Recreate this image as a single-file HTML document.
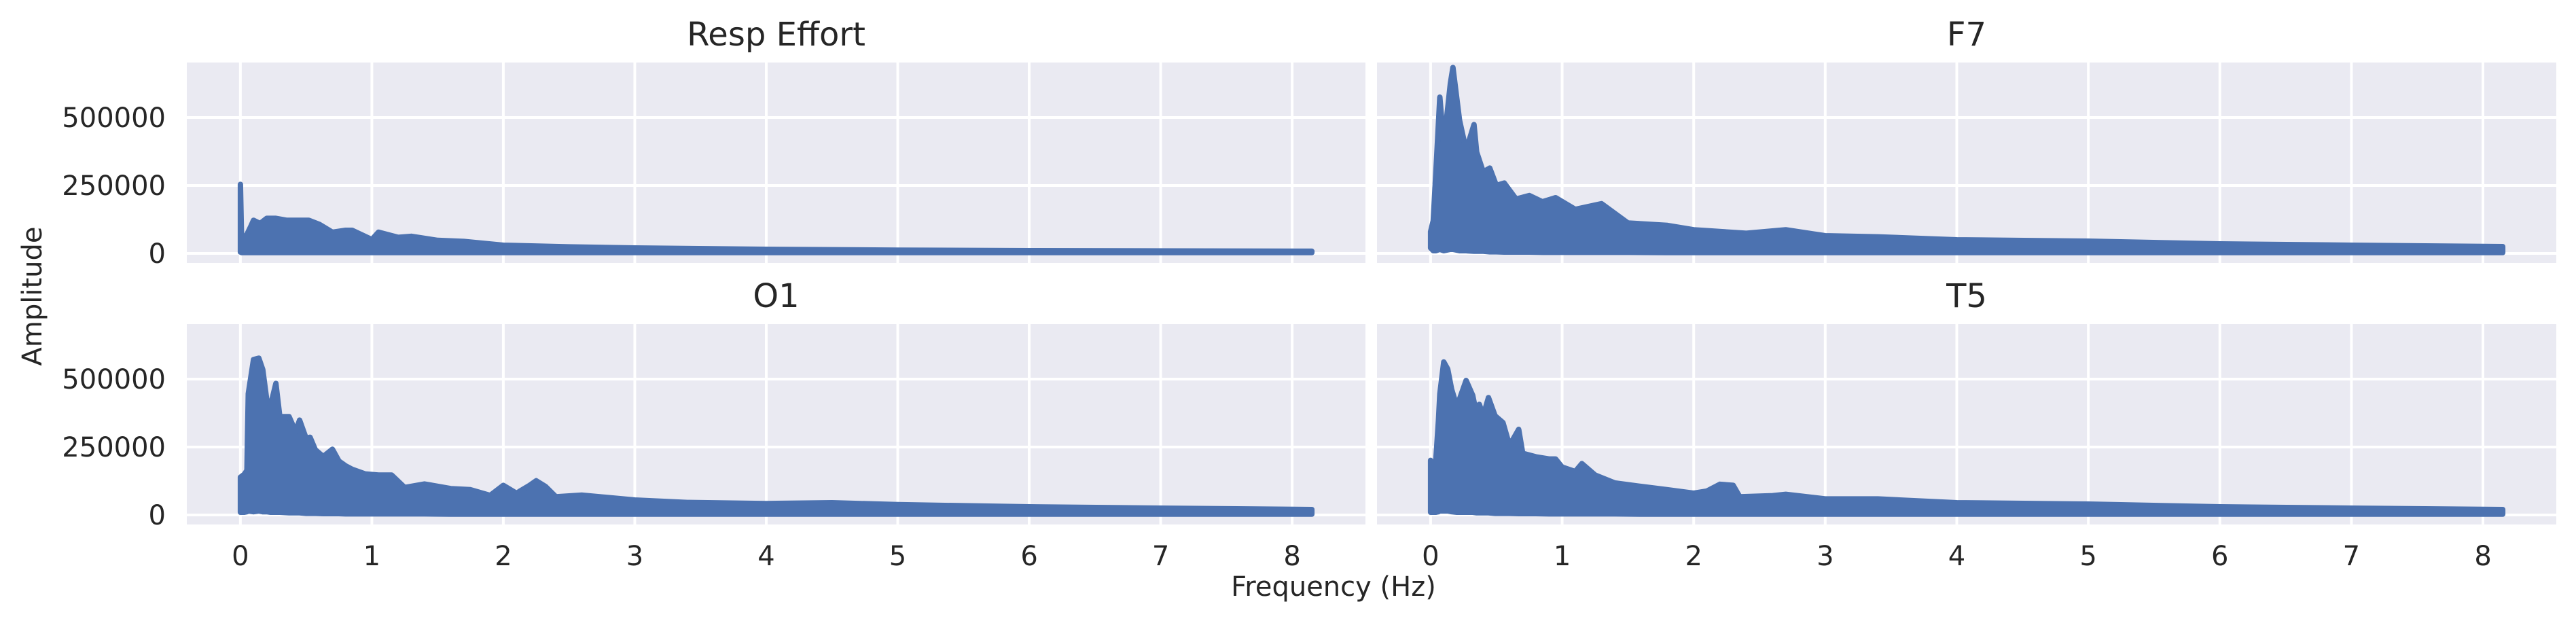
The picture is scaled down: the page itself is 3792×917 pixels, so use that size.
<!DOCTYPE html>
<html><head><meta charset="utf-8"><style>
html,body{margin:0;padding:0;background:#fff;}
svg{display:block;font-family:"DejaVu Sans","Liberation Sans",sans-serif;}
</style></head><body>
<svg id="chart" width="3792" height="917" viewBox="0 0 3792 917"></svg>
<script>
const xTicks = [0,1,2,3,4,5,6,7,8];
const yTicks = [0,250000,500000];
const yTickLabels = ["0","250000","500000"];
const titles = ["Resp Effort","F7","O1","T5"];

const respFreq = [0,0.01,0.03,0.05,0.08,0.1,0.15,0.2,0.27,0.35,0.42,0.52,0.6,0.7,0.8,0.85,1.0,1.05,1.2,1.3,1.5,1.7,2.0,2.5,3.0,4.0,5.0,6.0,7.0,8.15];
const respUpper = [254000,30000,60000,70000,100000,122000,110000,129000,129000,122000,122000,122000,107000,78000,85000,85000,51000,78000,59000,63000,48000,44000,30000,24000,20000,15000,12000,10000,9000,8000];
const respLower = [5000,3000,3000,3000,3000,3000,3000,3000,3000,3000,3000,3000,3000,3000,3000,3000,3000,3000,3000,3000,3000,3000,3000,3000,3000,3000,3000,3000,3000,3000];

const f7Freq = [0,0.02,0.04,0.07,0.1,0.15,0.17,0.22,0.27,0.33,0.35,0.4,0.45,0.5,0.56,0.65,0.75,0.85,0.95,1.1,1.3,1.5,1.8,2.0,2.4,2.7,3.0,3.4,4.0,5.0,6.0,7.0,8.15];
const f7Upper = [80000,120000,300000,575000,400000,625000,684000,490000,380000,474000,373000,300000,314000,250000,259000,200000,213000,190000,205000,162000,183000,112000,103000,87000,74000,87000,65000,61000,50000,45000,35000,30000,25000];
const f7Lower = [20000,10000,10000,15000,10000,15000,15000,10000,10000,8000,8000,8000,6000,6000,5000,5000,5000,4000,4000,4000,4000,4000,3000,3000,3000,3000,3000,3000,3000,3000,3000,3000,3000];

const o1Freq = [0,0.03,0.05,0.06,0.1,0.14,0.17,0.2,0.23,0.27,0.3,0.37,0.42,0.45,0.5,0.53,0.57,0.63,0.7,0.75,0.8,0.85,0.95,1.05,1.15,1.25,1.4,1.6,1.75,1.9,2.0,2.1,2.2,2.25,2.32,2.4,2.6,3.0,3.4,4.0,4.5,5.0,6.0,7.0,8.15];
const o1Upper = [139000,150000,164000,446000,572000,577000,535000,425000,404000,484000,362000,362000,307000,349000,282000,286000,240000,215000,242000,198000,181000,168000,151000,147000,147000,101000,114000,97000,93000,72000,109000,80000,109000,126000,105000,67000,73000,55000,46000,42000,45000,38000,30000,25000,20000];
const o1Lower = [10000,10000,12000,15000,12000,15000,12000,12000,10000,10000,10000,8000,8000,8000,6000,6000,6000,5000,5000,5000,4000,4000,4000,4000,4000,4000,4000,3000,3000,3000,3000,3000,3000,3000,3000,3000,3000,3000,3000,3000,3000,3000,3000,3000,3000];

const t5Freq = [0,0.01,0.02,0.04,0.06,0.07,0.1,0.13,0.16,0.2,0.27,0.32,0.35,0.37,0.4,0.44,0.49,0.55,0.6,0.67,0.7,0.8,0.9,0.95,1.0,1.1,1.15,1.25,1.4,1.6,1.8,2.0,2.1,2.2,2.3,2.35,2.6,2.7,3.0,3.4,4.0,5.0,6.0,7.0,8.15];
const t5Upper = [201000,60000,38000,206000,348000,445000,563000,537000,462000,399000,495000,440000,369000,407000,365000,432000,365000,340000,256000,315000,227000,214000,206000,206000,176000,160000,189000,147000,118000,105000,93000,80000,88000,113000,109000,67000,71000,76000,59000,59000,45000,40000,30000,25000,20000];
const t5Lower = [10000,10000,10000,10000,12000,15000,15000,15000,12000,10000,10000,10000,8000,8000,8000,8000,6000,6000,6000,5000,5000,5000,4000,4000,4000,4000,4000,4000,4000,3000,3000,3000,3000,3000,3000,3000,3000,3000,3000,3000,3000,3000,3000,3000,3000];

const NS = "http://www.w3.org/2000/svg";
const svg = document.getElementById("chart");
const X_MIN = -0.4075, X_MAX = 8.5575, Y_MIN = -35000, Y_MAX = 702500;
const panels = [
  {x0:275, x1:2010, y0:92, y1:387, freq:respFreq, up:respUpper, lo:respLower, ylab:true, xlab:false, name:"resp-effort"},
  {x0:2027, x1:3763, y0:92, y1:387, freq:f7Freq, up:f7Upper, lo:f7Lower, ylab:false, xlab:false, name:"f7"},
  {x0:275, x1:2010, y0:477, y1:772, freq:o1Freq, up:o1Upper, lo:o1Lower, ylab:true, xlab:true, name:"o1"},
  {x0:2027, x1:3763, y0:477, y1:772, freq:t5Freq, up:t5Upper, lo:t5Lower, ylab:false, xlab:true, name:"t5"}
];
function mk(tag, attrs, parent){
  const e = document.createElementNS(NS, tag);
  for (const k in attrs) e.setAttribute(k, attrs[k]);
  (parent||svg).appendChild(e);
  return e;
}
panels.forEach((p, i) => {
  const sx = v => p.x0 + (v - X_MIN) / (X_MAX - X_MIN) * (p.x1 - p.x0);
  const sy = v => p.y1 - (v - Y_MIN) / (Y_MAX - Y_MIN) * (p.y1 - p.y0);
  const g = mk("g", {});
  
  
  const bg = mk("rect", {x:p.x0, y:p.y0, width:p.x1-p.x0, height:p.y1-p.y0, fill:"#eaeaf2"}, g);
  
  
  xTicks.forEach(t => {
    const l = mk("line", {x1:sx(t), x2:sx(t), y1:p.y0, y2:p.y1, stroke:"#fff", "stroke-width":4}, g);
    
    
    if (p.xlab) {
      const tx = mk("text", {x:sx(t), y:832, "text-anchor":"middle", "font-size":40, fill:"#262626"}, g);
      tx.textContent = String(t);
      
      
    }
  });
  yTicks.forEach((t, k) => {
    const l = mk("line", {x1:p.x0, x2:p.x1, y1:sy(t), y2:sy(t), stroke:"#fff", "stroke-width":4}, g);
    
    
    if (p.ylab) {
      const tx = mk("text", {x:244, y:sy(t)+14, "text-anchor":"end", "font-size":40, fill:"#262626"}, g);
      tx.textContent = yTickLabels[k];
      
      
    }
  });
  let d = "";
  p.freq.forEach((f, k) => { d += (k ? "L" : "M") + sx(f).toFixed(1) + "," + sy(p.up[k]).toFixed(1); });
  for (let k = p.freq.length - 1; k >= 0; k--) d += "L" + sx(p.freq[k]).toFixed(1) + "," + sy(p.lo[k]).toFixed(1);
  d += "Z";
  const path = mk("path", {d:d, fill:"#4c72b0", stroke:"#4c72b0", "stroke-width":8, "stroke-linejoin":"round"}, g);
  
  
  const title = mk("text", {x:(p.x0+p.x1)/2, y:p.y0-25, "text-anchor":"middle", "font-size":48, fill:"#262626"}, g);
  title.textContent = titles[i];
  
  
});
const xl = mk("text", {x:1963, y:877, "text-anchor":"middle", "font-size":40, fill:"#262626"});
xl.textContent = "Frequency (Hz)";


const yl = mk("text", {x:0, y:0, "text-anchor":"middle", "font-size":40, fill:"#262626", transform:"translate(61,436) rotate(-90)"});
yl.textContent = "Amplitude";


</script>
</body></html>
